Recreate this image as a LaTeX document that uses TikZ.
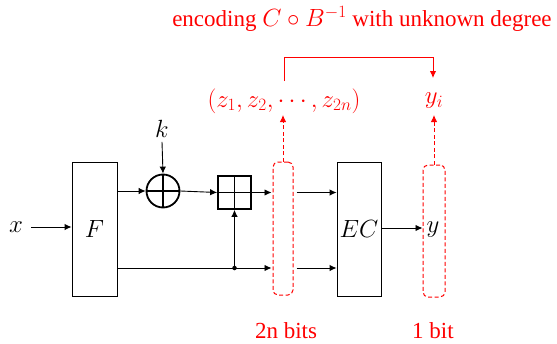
\documentclass[tikz,border=0pt]{standalone}
\usepackage{fontspec}
\setmainfont{Liberation Serif}
\usetikzlibrary{arrows.meta}
\definecolor{myred}{RGB}{255,0,0}
\begin{document}
\begin{tikzpicture}[x=1pt,y=-1pt,
  every node/.style={font=\fontsize{23}{27}\selectfont, inner sep=1pt},
  blk/.style={draw=black, line width=0.9pt, fill=white},
  arr/.style={line width=0.9pt, -{Latex[length=7pt,width=6.5pt]}},
  redarr/.style={draw=myred, line width=1pt, dash pattern=on 4pt off 2.5pt, -{Latex[length=7pt,width=6.5pt]}},
  redline/.style={draw=myred, line width=1pt, -{Latex[length=7pt,width=6.5pt]}},
  dbox/.style={draw=myred, line width=1pt, dash pattern=on 4pt off 2.5pt, rounded corners=5pt, inner sep=0pt},
  redtxt/.style={text=myred},
  opc/.style={draw=black, line width=1.8pt, minimum size=33pt, inner sep=0pt,
    path picture={\draw[line width=1.8pt] (path picture bounding box.north) -- (path picture bounding box.south)
      (path picture bounding box.west) -- (path picture bounding box.east);}}
]
\useasboundingbox (0,0) rectangle (557,343);

% main blocks
\node[blk, minimum width=45pt, minimum height=134pt] (F) at (94.5,229) {$F$};
\node[blk, minimum width=44pt, minimum height=134pt] (EC) at (359,229) {$EC$};
\node[opc, circle] (xor) at (163,191) {};
\node[opc, rectangle] (add) at (234.5,192.5) {};
\node[dbox, minimum width=20pt, minimum height=133pt] (d1) at (283,228.5) {};
\node[dbox, minimum width=22pt, minimum height=132pt] (d2) at (434,231) {};

% labels
\node (xl) at (16,227) {$x$};
\node (kl) at (162,129) {$k$};
\node (yl) at (433,230) {$y$};
\node[redtxt] (zl) at (284,101) {$(z_1,z_2,\cdots,z_{2n})$};
\node[redtxt] (yi) at (434,101) {$y_i$};
\node[redtxt] (title) at (362,19) {encoding $C\circ B^{-1}$ with unknown degree};
\node[redtxt] (b1) at (286,331) {2n bits};
\node[redtxt] (b2) at (433,331) {1 bit};
\node[circle, fill=black, inner sep=0pt, minimum size=4.5pt] (dot) at (234.5,268) {};
\coordinate (zt) at (284,81);
\coordinate (yt) at (433,78);

% connectors
\draw[arr] (31,227) -- (F.west |- 0,227);
\draw[arr] (F.east |- xor) -- (xor.west);
\draw[arr] (kl.south) ++(0,3) -- (xor.north);
\draw[arr] (xor.east) -- (add.west);
\draw[arr] (add.east) -- ([xshift=-1pt]d1.west |- add);
\draw[arr] (F.east |- dot) -- ([xshift=-1pt]d1.west |- dot);
\draw[arr] (dot) -- (add.south);
\draw[arr] ([xshift=3pt]d1.east |- add) -- (EC.west |- add);
\draw[arr] ([xshift=3pt]d1.east |- dot) -- (EC.west |- dot);
\draw[arr] (EC.east |- 0,228) -- (d2.west |- 0,228);

\draw[redarr] (d1.north) -- (d1.north |- 0,115);
\draw[redarr] (d2.north) -- (d2.north |- 0,115);
\draw[redline] (zt) -- (zt |- 0,57) -| (yt);
\end{tikzpicture}
\end{document}
